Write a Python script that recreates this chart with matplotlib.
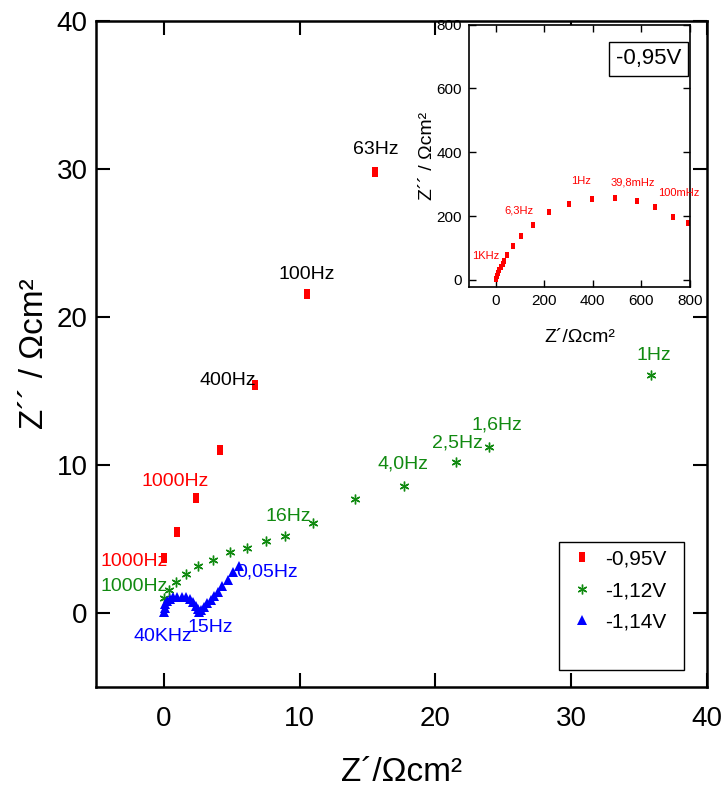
import matplotlib
matplotlib.use("Agg")
import matplotlib.pyplot as plt
from matplotlib.patches import Rectangle
from matplotlib.path import Path

plt.rcParams['font.family'] = ['Liberation Sans Narrow', 'Liberation Sans', 'DejaVu Sans']

# ---------------- data ----------------
# -0,95 V (main window)
red_x = [0.0, 0.95, 2.4, 4.1, 6.7, 10.55, 15.55]
red_y = [3.75, 5.45, 7.8, 11.0, 15.4, 21.55, 29.8]

# -1,12 V
green_x = [0.0, 0.35, 0.9, 1.6, 2.55, 3.65, 4.85, 6.1, 7.5, 8.95, 11.0, 14.1, 17.65, 21.5, 23.95, 35.9]
green_y = [1.0, 1.55, 2.1, 2.65, 3.15, 3.6, 4.1, 4.4, 4.85, 5.2, 6.05, 7.7, 8.6, 10.2, 11.25, 16.05]

# -1,14 V
blue_x = [0.0, 0.05, 0.12, 0.25, 0.45, 0.7, 1.0, 1.3, 1.6, 1.9, 2.15, 2.35, 2.5, 2.6,
          2.75, 2.95, 3.2, 3.45, 3.7, 4.0, 4.3, 4.7, 5.1, 5.5]
blue_y = [0.05, 0.35, 0.6, 0.8, 0.95, 1.05, 1.1, 1.1, 1.05, 0.95, 0.75, 0.5, 0.25, 0.1,
          0.2, 0.4, 0.65, 0.9, 1.15, 1.45, 1.8, 2.25, 2.75, 3.2]

# inset -0,95 V full spectrum
inset_x = [0, 4, 10, 15, 22, 29, 34, 48, 73, 105, 153, 219, 302, 395, 492, 584, 658, 731, 793]
inset_y = [2, 13, 23, 31, 42, 50, 60, 78, 105, 139, 173, 212, 239, 255, 257, 246, 228, 198, 180]

series_names = ['-0,95V', '-1,12V', '-1,14V']

# annotations: (text, x, y, color)
main_labels = [
    ('1000Hz', -2.2, 3.5, 'red'),
    ('1000Hz', 0.8, 8.9, 'red'),
    ('400Hz', 4.7, 15.7, 'black'),
    ('100Hz', 10.5, 22.9, 'black'),
    ('63Hz', 15.6, 31.3, 'black'),
    ('1000Hz', -2.2, 1.8, 'green'),
    ('16Hz', 9.15, 6.55, 'green'),
    ('4,0Hz', 17.6, 10.1, 'green'),
    ('2,5Hz', 21.6, 11.5, 'green'),
    ('1,6Hz', 24.5, 12.7, 'green'),
    ('1Hz', 36.1, 17.4, 'green'),
    ('40KHz', -0.07, -1.6, 'blue'),
    ('15Hz', 3.45, -0.95, 'blue'),
    ('0,05Hz', 7.6, 2.8, 'blue'),
]
inset_labels = [
    ('1KHz', -40, 76),
    ('6,3Hz', 96, 217),
    ('1Hz', 352, 309),
    ('39,8mHz', 564, 305),
    ('100mHz', 754, 274),
]

RED = '#ff0000'
GREEN = '#118a11'
BLUE = '#0000ff'
cmap = {'red': RED, 'green': GREEN, 'blue': BLUE, 'black': 'black'}

rect_marker = Path([(-0.6, -1), (0.6, -1), (0.6, 1), (-0.6, 1), (-0.6, -1)],
                   [Path.MOVETO, Path.LINETO, Path.LINETO, Path.LINETO, Path.CLOSEPOLY])

fig = plt.figure(figsize=(7.27, 7.95), dpi=100)
ax = fig.add_axes([0.132, 0.1358, 0.8405, 0.8378])

ax.plot(red_x, red_y, linestyle='none', marker=rect_marker, markersize=7,
        color=RED, markeredgewidth=0, label=series_names[0])
ax.plot(green_x, green_y, linestyle='none', marker=(6, 2, 0), markersize=7,
        color=GREEN, markeredgewidth=1.0, label=series_names[1])
ax.plot(blue_x, blue_y, linestyle='none', marker='^', markersize=7.5,
        color=BLUE, markeredgewidth=0, label=series_names[2])

ax.set_xlim(-5, 40)
ax.set_ylim(-5, 40)
ax.set_xticks([0, 10, 20, 30, 40])
ax.set_yticks([0, 10, 20, 30, 40])
ax.tick_params(direction='in', length=10, width=1.5, labelsize=20, pad=14,
               top=True, right=True)
ax.tick_params(axis='y', pad=6)
for s in ax.spines.values():
    s.set_linewidth(1.8)

ax.set_xlabel('Z´/Ωcm²', fontsize=24, labelpad=18)
ax.set_ylabel('Z´´ / Ωcm²', fontsize=24, labelpad=5)

for t, x, y, c in main_labels:
    ax.text(x, y, t, color=cmap[c], fontsize=14, ha='center', va='center')

# legend with a drawn frame
ax.add_patch(Rectangle((0.758, 0.0255), 0.204, 0.1925, transform=ax.transAxes,
                       fill=False, edgecolor='black', linewidth=1.0, zorder=5))
leg = ax.legend(loc='upper left', bbox_to_anchor=(0.765, 0.219), frameon=False,
                fontsize=15, handlelength=1.0, handletextpad=0.6, labelspacing=0.6,
                borderaxespad=0)

# inset
axi = fig.add_axes([0.645, 0.639, 0.304, 0.330])
axi.plot(inset_x, inset_y, linestyle='none', marker=rect_marker, markersize=5,
         color=RED, markeredgewidth=0)
axi.set_xlim(-110, 800)
axi.set_ylim(-22, 800)
axi.set_xticks([0, 200, 400, 600, 800])
axi.set_yticks([0, 200, 400, 600, 800])
axi.tick_params(direction='in', length=5, width=1.0, labelsize=11, pad=5,
                top=True, right=True)
for s in axi.spines.values():
    s.set_linewidth(1.2)
axi.set_xlabel('Z´/Ωcm²', fontsize=14, labelpad=15)
axi.set_ylabel('Z´´ / Ωcm²', fontsize=14, labelpad=0)
for t, x, y in inset_labels:
    axi.text(x, y, t, color=RED, fontsize=8, ha='center', va='center')
axi.text(0.814, 0.870, '-0,95V', transform=axi.transAxes, fontsize=16,
         ha='center', va='center',
         bbox=dict(boxstyle='square,pad=0.3', facecolor='white', edgecolor='black', linewidth=1.0))

fig.savefig('out.png', dpi=100)
